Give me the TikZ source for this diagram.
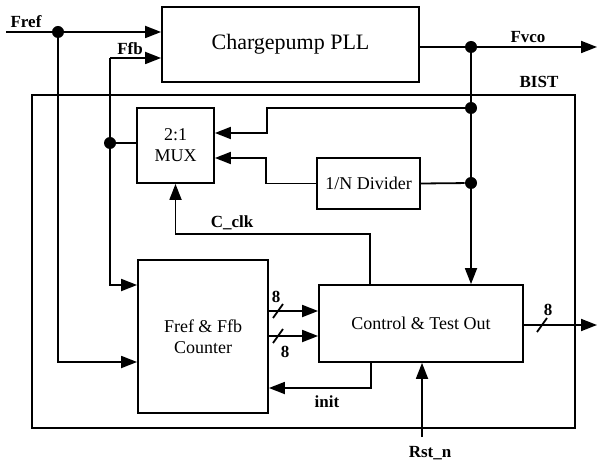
\documentclass[tikz,border=0pt]{standalone}
\usepackage{fontspec}
\setmainfont{Liberation Serif}
\usepackage{tikz}
\usetikzlibrary{arrows.meta,positioning,calc}
\tikzset{
  block/.style={draw,line width=0.9pt,align=center,inner sep=1pt,font=\fontsize{9}{10.5}\selectfont},
  wire/.style={line width=0.9pt},
  signal arrow/.style={wire,-{Triangle[length=8pt,width=6pt]}},
  junction/.style={circle,fill,inner sep=0pt,minimum size=6pt},
  sig label/.style={font=\fontsize{8.5}{10}\selectfont\bfseries,inner sep=0pt},
  bist frame/.style={draw,line width=0.6pt}
}
\newcommand{\busslash}[1]{\draw[wire] ([shift={(-5,7)}]#1) -- ([shift={(5,-7)}]#1);}

\begin{document}
\begin{tikzpicture}[x=0.5pt,y=-0.5pt]
        \useasboundingbox (0,0) rectangle (597,464);
        \draw[bist frame] (32,95) rectangle (575,428);
        \node[sig label] (bistlabel) at (539,82) {BIST};
        \node[block,minimum width=128.5pt,minimum height=37.5pt,font=\fontsize{11}{13}\selectfont] (pll) at (290.5,44.5) {Chargepump PLL};
        \node[block,minimum width=38.5pt,minimum height=37.5pt] (mux) at (175.5,145.5) {2:1\\MUX};
        \node[block,minimum width=51.5pt,minimum height=25.5pt] (div) at (368.5,183.5) {1/N Divider};
        \node[block,minimum width=65pt,minimum height=76.5pt] (cnt) at (203,336.5) {Fref \& Ffb\\Counter};
        \node[block,minimum width=102pt,minimum height=38.5pt] (ctl) at (421,323.5) {Control \& Test Out};
        \node[junction] (jref) at (58,32) {};
        \node[junction] (jffb) at (110,143) {};
        \node[junction] (jvco) at (471,47) {};
        \node[junction] (jtop) at (471,108) {};
        \node[junction] (jdiv) at (471,183) {};
        \coordinate (fin) at (6,32);
        \coordinate (ffbtop) at (110,58);
        \coordinate (fout) at (597,47);
        \coordinate (sel) at (267,133);
        \coordinate (clkk) at (370,234);
        \coordinate (bus1) at (268,311);
        \coordinate (bus2) at (268,336);
        \coordinate (initc) at (371,388);
        \coordinate (rst) at (422,437);
        \coordinate (tout) at (597,325);
        \draw[signal arrow] (fin) -- (jref) -- (jref -| pll.west);
        \draw[signal arrow] (jref) |- (cnt.west |- 0,362);
        \draw[signal arrow] (ffbtop) -- (ffbtop -| pll.west);
        \draw[wire] (ffbtop) -- (jffb);
        \draw[wire] (jffb) -- (jffb -| mux.west);
        \draw[signal arrow] (jffb) |- (cnt.west |- 0,285);
        \draw[signal arrow] (pll.east |- jvco) -- (jvco) -- (fout);
        \draw[wire] (jvco) -- (jtop) -- (jdiv);
        \draw[signal arrow] (jdiv) -- (jdiv |- ctl.north);
        \draw[signal arrow] (jtop) -| (sel) -- (sel -| mux.east);
        \draw[wire] (div.east) -- (jdiv);
        \draw[signal arrow] (div.west) -- ++(-50,0) |- ([yshift=-6.25pt]mux.east);
        \draw[signal arrow] (clkk |- ctl.north) -- (clkk) -| (mux.south);
        \draw[signal arrow] (bus1) -- (bus1 -| ctl.west);
        \draw[signal arrow] (bus2) -- (bus2 -| ctl.west);
        \busslash{278,311}
        \busslash{278,336}
        \draw[signal arrow] (initc |- ctl.south) -- (initc) -- (initc -| cnt.east);
        \draw[signal arrow] (rst) -- (rst |- ctl.south);
        \draw[signal arrow] (ctl.east |- tout) -- (tout);
        \busslash{542,325}
        \node[sig label] (freflabel) at (26,22) {Fref};
        \node[sig label] (ffblabel) at (130,49) {Ffb};
        \node[sig label] (fvcolabel) at (528,37) {Fvco};
        \node[sig label] (clklabel) at (232,223) {C\_clk};
        \node[sig label] (initlabel) at (327,402) {init};
        \node[sig label] (rstlabel) at (430,453) {Rst\_n};
        \node[sig label] (buslabela) at (276,297) {8};
        \node[sig label] (buslabelb) at (285,352) {8};
        \node[sig label] (buslabelc) at (548,310) {8};
      \end{tikzpicture}
\end{document}
